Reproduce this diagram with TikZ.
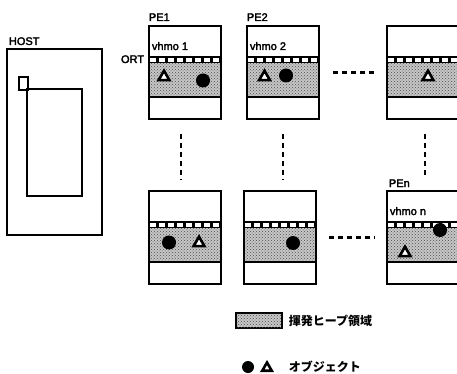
\documentclass[tikz,border=0pt]{standalone}
\usepackage{fontspec}
\setmainfont{Liberation Sans}
\newfontfamily\lblfont{Liberation Sans}[FakeBold=2.5]
\newfontfamily\jpfont{Noto Sans CJK JP}
\usetikzlibrary{calc,shapes.geometric,patterns}

\begin{document}
\begin{tikzpicture}[x=1pt,y=-1pt,line width=1.9pt,
    pebox/.style={draw, rectangle, minimum width=72pt, minimum height=93pt, inner sep=0pt, anchor=north west},
    heap/.style={fill=black!22, postaction={pattern=crosshatch dots, pattern color=black!70}},
    ball/.style={circle, fill=black, inner sep=0pt, minimum size=14pt},
    tri/.style={regular polygon, regular polygon sides=3, draw, fill=white, line width=2.6pt, inner sep=0pt, minimum size=12.5pt},
    gap/.style={dash pattern=on 5pt off 4pt, line width=2.2pt},
    lbl/.style={inner sep=0pt, font=\lblfont\fontsize{11}{13}\selectfont},
    jlbl/.style={inner sep=0pt, anchor=west, font=\jpfont\bfseries\fontsize{12}{14}\selectfont}]
    %
    \useasboundingbox (0,0) rectangle (457,374);

    % host
    \draw (7,49) rectangle (102,235);
    \draw (19,77) rectangle (28,90);
    \draw (27,89) rectangle (82,196);
    \node[lbl, anchor=base west] (host) at (8,45) {HOST};

    % processor elements
    \foreach \nm/\x/\y in {pe1/148/25, pe2/246/25, pen/386/25, qa/148/190, qb/243/190, qn/386/190} {
        \fill[heap] (\x,{\y+38}) rectangle ({\x+72},{\y+72});
        \fill (\x,{\y+31}) rectangle ({\x+72},{\y+38});
        \foreach \i in {0,...,7}
            \fill[white] ({\x+1.8+9*\i},{\y+32.6}) rectangle ++(6.6,4.2);
        \draw (\x,{\y+72}) -- ({\x+72},{\y+72});
        \node[pebox] (\nm) at (\x,\y) {};
    }

    \node[lbl, anchor=base west] (l1) at (148,21) {PE1};
    \node[lbl, anchor=base west] (l2) at (246,21) {PE2};
    \node[lbl, anchor=base west] (ln) at (388,187) {PEn};
    \node[lbl, anchor=base west] (v1) at (151,50) {vhmo 1};
    \node[lbl, anchor=base west] (v2) at (249,50) {vhmo 2};
    \node[lbl, anchor=base west] (vn) at (389,215) {vhmo n};
    \node[lbl, anchor=base east] (ort) at (145,63) {ORT};

    % objects
    \node[tri] (t1) at (164,77) {};
    \node[ball] (c1) at (203,80.5) {};
    \node[tri] (t2) at (264.5,77) {};
    \node[ball] (c2) at (286,75.5) {};
    \node[tri] (tn) at (428,77) {};
    \node[ball] (c3) at (169,242.5) {};
    \node[tri] (t3) at (199,243) {};
    \node[ball] (c4) at (293,243) {};
    \node[tri] (t4) at (405,253) {};
    \node[ball] (c5) at (440,230) {};

    % dashed links
    \draw[gap] ($(pe2.east)+(13,0)$) -- ($(pen.west)+(-9,0)$);
    \draw[gap] ($(qb.east)+(12,0)$) -- ($(qn.west)+(-11,0)$);
    \draw[gap] ($(pe1.south)+(-4,14)$) -- ($(pe1.south |- qa.north)+(-4,-10)$);
    \draw[gap] ($(pe2.south)+(0,14)$) -- ($(pe2.south |- qb.north)+(0,-10)$);
    \draw[gap] ($(pen.south)+(2,14)$) -- ($(pen.south |- qn.north)+(2,-12)$);

    % legend
    \node[draw, heap, minimum width=46pt, minimum height=15pt, inner sep=0pt] (key) at (259,320.5) {};
    \node[jlbl] (keytxt) at (288,320.5) {揮発ヒープ領域};
    \node[ball, minimum size=12pt] (kc) at (248,367) {};
    \node[tri, minimum size=11pt] (kt) at (267,368) {};
    \node[jlbl] (kotxt) at (288,367) {オブジェクト};
\end{tikzpicture}
\end{document}
